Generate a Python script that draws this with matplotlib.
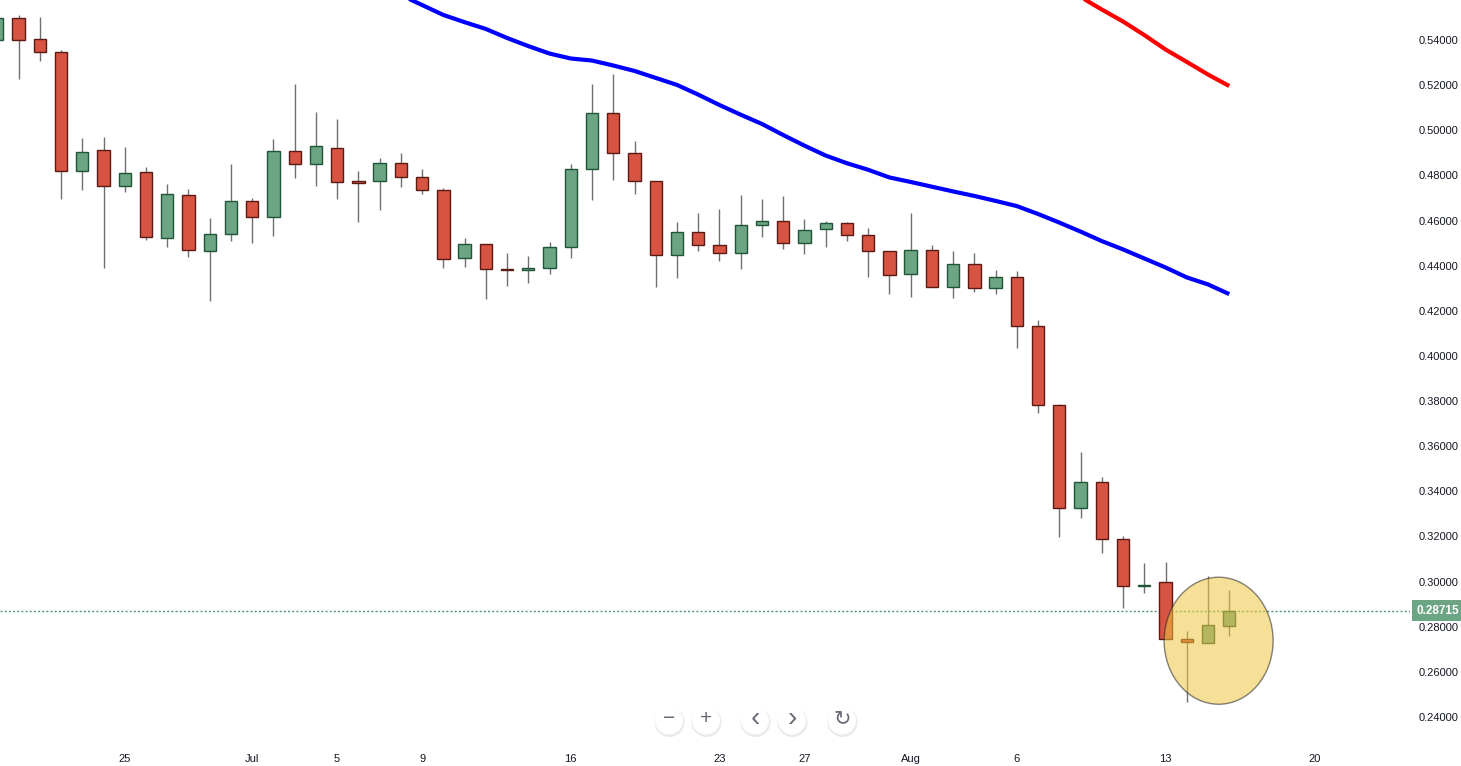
import matplotlib
matplotlib.use('Agg')
import matplotlib.pyplot as plt
from matplotlib.patches import Ellipse, Circle
import numpy as np
import pandas as pd

plt.rcParams['font.family'] = ['Liberation Sans', 'DejaVu Sans']

# candles diarios (19 jun -> 16 ago)
datas = pd.date_range('2018-06-19', periods=59, freq='D')

abertura = [0.5400, 0.5496, 0.5403, 0.5345, 0.4818, 0.4911, 0.4752, 0.4814, 0.4522, 0.4712,
            0.4464, 0.4539, 0.4685, 0.4615, 0.4907, 0.4849, 0.4920, 0.4774, 0.4774, 0.4854,
            0.4792, 0.4734, 0.4432, 0.4494, 0.4383, 0.4380, 0.4388, 0.4482, 0.4827, 0.5075,
            0.4898, 0.4774, 0.4446, 0.4548, 0.4490, 0.4455, 0.4579, 0.4597, 0.4499, 0.4561,
            0.4588, 0.4535, 0.4464, 0.4362, 0.4468, 0.4304, 0.4406, 0.4300, 0.4352, 0.4132,
            0.3782, 0.3325, 0.3441, 0.3188, 0.2979, 0.2997, 0.2744, 0.2730, 0.2803]
maxima = [0.5520, 0.5510, 0.5502, 0.5356, 0.4966, 0.4970, 0.4926, 0.4837, 0.4762, 0.4740,
          0.4611, 0.4851, 0.4700, 0.4961, 0.5205, 0.5081, 0.5050, 0.4820, 0.4877, 0.4899,
          0.4828, 0.4744, 0.4523, 0.4494, 0.4456, 0.4443, 0.4505, 0.4849, 0.5205, 0.5249,
          0.4953, 0.4774, 0.4592, 0.4632, 0.4651, 0.4713, 0.4696, 0.4709, 0.4607, 0.4597,
          0.4592, 0.4566, 0.4464, 0.4634, 0.4492, 0.4464, 0.4456, 0.4380, 0.4376, 0.4160,
          0.3787, 0.3574, 0.3463, 0.3202, 0.3083, 0.3087, 0.2781, 0.3026, 0.2962]
minima = [0.5380, 0.5227, 0.5308, 0.4697, 0.4737, 0.4391, 0.4728, 0.4515, 0.4484, 0.4440,
          0.4245, 0.4510, 0.4502, 0.4533, 0.4790, 0.4755, 0.4697, 0.4595, 0.4648, 0.4750,
          0.4719, 0.4391, 0.4395, 0.4251, 0.4311, 0.4325, 0.4365, 0.4436, 0.4693, 0.4778,
          0.4719, 0.4307, 0.4347, 0.4467, 0.4422, 0.4387, 0.4525, 0.4475, 0.4453, 0.4484,
          0.4511, 0.4351, 0.4276, 0.4263, 0.4304, 0.4258, 0.4285, 0.4276, 0.4033, 0.3749,
          0.3199, 0.3283, 0.3128, 0.2883, 0.2949, 0.2744, 0.2468, 0.2730, 0.2760]
fechamento = [0.5496, 0.5399, 0.5345, 0.4818, 0.4903, 0.4752, 0.4809, 0.4526, 0.4716, 0.4470,
              0.4539, 0.4685, 0.4615, 0.4907, 0.4849, 0.4929, 0.4770, 0.4765, 0.4854, 0.4792,
              0.4734, 0.4428, 0.4494, 0.4384, 0.4380, 0.4388, 0.4482, 0.4827, 0.5075, 0.4898,
              0.4774, 0.4446, 0.4548, 0.4490, 0.4455, 0.4579, 0.4597, 0.4499, 0.4557, 0.4588,
              0.4535, 0.4464, 0.4358, 0.4468, 0.4304, 0.4406, 0.4300, 0.4352, 0.4132, 0.3782,
              0.3325, 0.3441, 0.3188, 0.2980, 0.2982, 0.2744, 0.2733, 0.2807, 0.28715]

# medias moveis (so a parte visivel)
media_azul_inicio = 19
media_azul = [0.5599, 0.5555, 0.5511, 0.5479, 0.5449, 0.5409, 0.5373, 0.5340, 0.5318, 0.5309,
              0.5287, 0.5263, 0.5232, 0.5201, 0.5158, 0.5112, 0.5069, 0.5028, 0.4979, 0.4932,
              0.4888, 0.4854, 0.4825, 0.4791, 0.4771, 0.4750, 0.4729, 0.4709, 0.4687, 0.4664,
              0.4629, 0.4591, 0.4551, 0.4509, 0.4472, 0.4432, 0.4392, 0.4348, 0.4317, 0.4274]
media_vermelha_inicio = 50
media_vermelha = [0.5639, 0.5591, 0.5535, 0.5482, 0.5422, 0.5358, 0.5303, 0.5247, 0.5196]

ultimo_preco = 0.28715

rotulos_x = ['25', 'Jul', '5', '9', '16', '23', '27', 'Aug', '6', '13', '20']
datas_x = ['2018-06-25', '2018-07-01', '2018-07-05', '2018-07-09', '2018-07-16', '2018-07-23',
           '2018-07-27', '2018-08-01', '2018-08-06', '2018-08-13', '2018-08-20']
ticks_y = np.arange(0.24, 0.5401, 0.02)

# destaque amarelo em volta dos ultimos candles
destaque_centro = (57.5, 0.2738)
destaque_largura = 5.13
destaque_altura = 0.0563

fig = plt.figure(figsize=(14.61, 7.66), dpi=100)
ax = fig.add_axes([0, 26 / 766, 1410 / 1461, 740 / 766])

x = np.arange(len(datas))
o = np.array(abertura)
c = np.array(fechamento)
alta = c >= o
cores = np.where(alta, '#6ba583', '#d75442')
bordas = np.where(alta, '#225437', '#5b1a13')

ax.vlines(x, minima, maxima, color='#6f6f72', linewidth=1, zorder=2)
base = np.minimum(o, c)
altura = np.maximum(np.abs(c - o), 0.0007)
ax.bar(x, altura, 0.58, bottom=base, color=cores, edgecolor=bordas, linewidth=1, zorder=3)

xa = np.arange(media_azul_inicio, media_azul_inicio + len(media_azul))
ax.plot(xa, media_azul, color='#0000ff', linewidth=3, solid_capstyle='butt', zorder=4)
xv = np.arange(media_vermelha_inicio, media_vermelha_inicio + len(media_vermelha))
ax.plot(xv, media_vermelha, color='#ff0000', linewidth=3, solid_capstyle='butt', zorder=4)

ax.axhline(ultimo_preco, color='#4f9a6c', linestyle=(0, (1.5, 1.5)), linewidth=1, zorder=1)

ax.add_patch(Ellipse(destaque_centro, destaque_largura, destaque_altura,
                     facecolor='#f0c540', edgecolor='#222222', linewidth=1, alpha=0.55, zorder=5))

ax.set_xlim(0.127, 66.51)
ax.set_ylim(0.22981, 0.55773)

pos_x = [(pd.Timestamp(d) - datas[0]).days for d in datas_x]
ax.set_xticks(pos_x)
ax.set_xticklabels(rotulos_x)
ax.yaxis.tick_right()
ax.set_yticks(ticks_y)
ax.set_yticklabels(['%.5f' % v for v in ticks_y])
ax.tick_params(axis='both', length=0, labelsize=8, labelcolor='#131722')
ax.tick_params(axis='x', pad=10)
ax.tick_params(axis='y', pad=6)
for s in ax.spines.values():
    s.set_visible(False)

ax.annotate('%.5f' % ultimo_preco, xy=(1, ultimo_preco), xycoords=('axes fraction', 'data'),
            xytext=(4.5, 0), textcoords='offset points', ha='left', va='center',
            fontsize=8.5, fontweight='bold', color='white',
            bbox=dict(boxstyle='square,pad=0.35', fc='#6ba583', ec='none'))

# botoes de navegacao
nav = fig.add_axes([0, 0, 1, 1])
nav.set_xlim(0, 1461)
nav.set_ylim(766, 0)
nav.axis('off')
nav.patch.set_alpha(0)
botoes = [(669, '−', 15), (706, '+', 15), (755, '‹', 20), (792, '›', 20), (842, '↻', 15)]
for bx, simbolo, tam in botoes:
    nav.add_patch(Circle((bx + 0.5, 722), 15, facecolor='#e9e9ee', edgecolor='none'))
    nav.add_patch(Circle((bx, 720.5), 14, facecolor='white', edgecolor='none'))
    nav.text(bx, 719, simbolo, ha='center', va='center', fontsize=tam, color='#6a6d78')

plt.savefig('out.png', dpi=100)
